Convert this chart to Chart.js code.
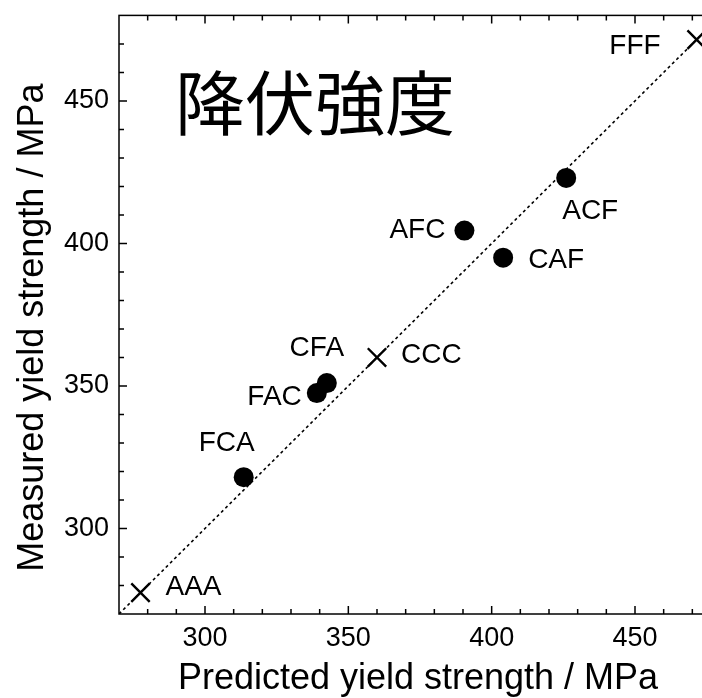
<!DOCTYPE html>
<html>
<head>
<meta charset="utf-8">
<script src="https://cdn.jsdelivr.net/npm/chart.js@4"></script>
<style>
  html, body { margin: 0; padding: 0; background: #fff; overflow: hidden; }
  #wrap { width: 740px; height: 698px; }
</style>
</head>
<body>
<div id="wrap"><canvas id="chartCanvas"></canvas></div>
<script>
// datos
const circleNames = ['FCA', 'FAC', 'CFA', 'AFC', 'CAF', 'ACF'];
const circlePredicted = [313.5, 339, 342.5, 390.5, 404, 426];
const circleMeasured = [318, 347.5, 351, 404.5, 395, 423];

const crossNames = ['AAA', 'CCC', 'FFF'];
const crossPredicted = [277.5, 360, 471.5];
const crossMeasured = [277.5, 360, 471.5];

const axisMin = 270;
const axisMax = 480;
const tickLabels = [300, 350, 400, 450];

// posicion de cada etiqueta respecto al punto (px)
const labelPos = {
    AAA: { dx: 25, dy: -5, align: 'left' },
    CCC: { dx: 24, dy: -2, align: 'left' },
    FFF: { dx: -36, dy: 7, align: 'right' },
    CFA: { dx: -10, dy: -35, align: 'center' },
    FAC: { dx: -15, dy: 4, align: 'right' },
    FCA: { dx: -17, dy: -34, align: 'center' },
    AFC: { dx: -19, dy: 0, align: 'right' },
    CAF: { dx: 25, dy: 3, align: 'left' },
    ACF: { dx: 24, dy: 33, align: 'center' }
};

const FONT = "'Liberation Sans', Arial, sans-serif";

const circlePoints = circlePredicted.map((x, i) => ({ x, y: circleMeasured[i], name: circleNames[i] }));
const crossPoints = crossPredicted.map((x, i) => ({ x, y: crossMeasured[i], name: crossNames[i] }));

const marcoPlugin = {
    id: 'marco',
    afterDraw(chart) {
        const ctx = chart.ctx;
        const { left, right, top, bottom } = chart.chartArea;
        ctx.save();
        ctx.strokeStyle = '#000';
        ctx.lineWidth = 1.5;
        ctx.strokeRect(left, top, right - left, bottom - top);

        const sx = chart.scales.x;
        sx.ticks.forEach(t => {
            if (t.value <= axisMin || t.value >= axisMax) return;
            const px = sx.getPixelForValue(t.value);
            const len = t.value % 50 === 0 ? 8 : 5;
            ctx.beginPath();
            ctx.moveTo(px, bottom); ctx.lineTo(px, bottom - len);
            ctx.moveTo(px, top); ctx.lineTo(px, top + len);
            ctx.stroke();
        });
        const sy = chart.scales.y;
        sy.ticks.forEach(t => {
            if (t.value <= axisMin || t.value >= axisMax) return;
            const py = sy.getPixelForValue(t.value);
            const len = t.value % 50 === 0 ? 8 : 5;
            ctx.beginPath();
            ctx.moveTo(left, py); ctx.lineTo(left + len, py);
            ctx.moveTo(right, py); ctx.lineTo(right - len, py);
            ctx.stroke();
        });

        ctx.fillStyle = '#000';
        ctx.textBaseline = 'middle';

        // etiquetas de los puntos
        ctx.font = '28px ' + FONT;
        [...circlePoints, ...crossPoints].forEach(p => {
            const pos = labelPos[p.name];
            ctx.textAlign = pos.align;
            ctx.fillText(p.name, sx.getPixelForValue(p.x) + pos.dx, sy.getPixelForValue(p.y) + pos.dy);
        });

        // titulos de los ejes
        ctx.font = '36px ' + FONT;
        ctx.textAlign = 'center';
        ctx.fillText('Predicted yield strength / MPa', (left + right) / 2 - 2, bottom + 65);
        ctx.save();
        ctx.translate(left - 86, (top + bottom) / 2 + 13);
        ctx.rotate(-Math.PI / 2);
        ctx.fillText('Measured yield strength / MPa', 0, 0);
        ctx.restore();

        // titulo dentro del grafico
        ctx.font = "70px 'Noto Sans CJK JP', sans-serif";
        ctx.textAlign = 'center';
        ctx.fillText('降伏強度', left + 196, top + 88);
        ctx.restore();
    }
};

const ctx = document.getElementById('chartCanvas').getContext('2d');
new Chart(ctx, {
    type: 'scatter',
    data: {
        datasets: [
            {
                label: 'y = x',
                data: [{ x: axisMin, y: axisMin }, { x: axisMax, y: axisMax }],
                showLine: true,
                borderColor: '#000',
                borderWidth: 1.6,
                borderDash: [3, 3],
                pointRadius: 0
            },
            {
                label: 'circles',
                data: circlePoints,
                pointStyle: 'circle',
                pointRadius: 10,
                backgroundColor: '#000',
                borderColor: '#000',
                borderWidth: 0
            },
            {
                label: 'crosses',
                data: crossPoints,
                pointStyle: 'crossRot',
                pointRadius: 13,
                borderColor: '#000',
                borderWidth: 2.4
            }
        ]
    },
    options: {
        responsive: true,
        maintainAspectRatio: false,
        animation: false,
        layout: { padding: { top: 10, right: 19, left: 0, bottom: 0 } },
        plugins: {
            legend: { display: false },
            tooltip: { enabled: false }
        },
        scales: {
            x: {
                type: 'linear',
                min: axisMin,
                max: axisMax,
                grid: { display: false, drawTicks: false },
                border: { display: false },
                ticks: {
                    stepSize: 10,
                    autoSkip: false,
                    maxRotation: 0,
                    padding: 8,
                    color: '#000',
                    font: { family: FONT, size: 27 },
                    callback: v => tickLabels.includes(v) ? String(v) : ''
                },
                afterFit: s => {
                    s.height = 84;
                    s.paddingLeft = 0;
                    s.paddingRight = 0;
                }
            },
            y: {
                type: 'linear',
                min: axisMin,
                max: axisMax,
                grid: { display: false, drawTicks: false },
                border: { display: false },
                ticks: {
                    stepSize: 10,
                    autoSkip: false,
                    padding: 10,
                    color: '#000',
                    font: { family: FONT, size: 27 },
                    callback: v => tickLabels.includes(v) ? String(v) : ''
                },
                afterFit: s => {
                    s.width = 119;
                    s.paddingTop = 0;
                    s.paddingBottom = 0;
                }
            }
        }
    },
    plugins: [marcoPlugin]
});
</script>
</body>
</html>
